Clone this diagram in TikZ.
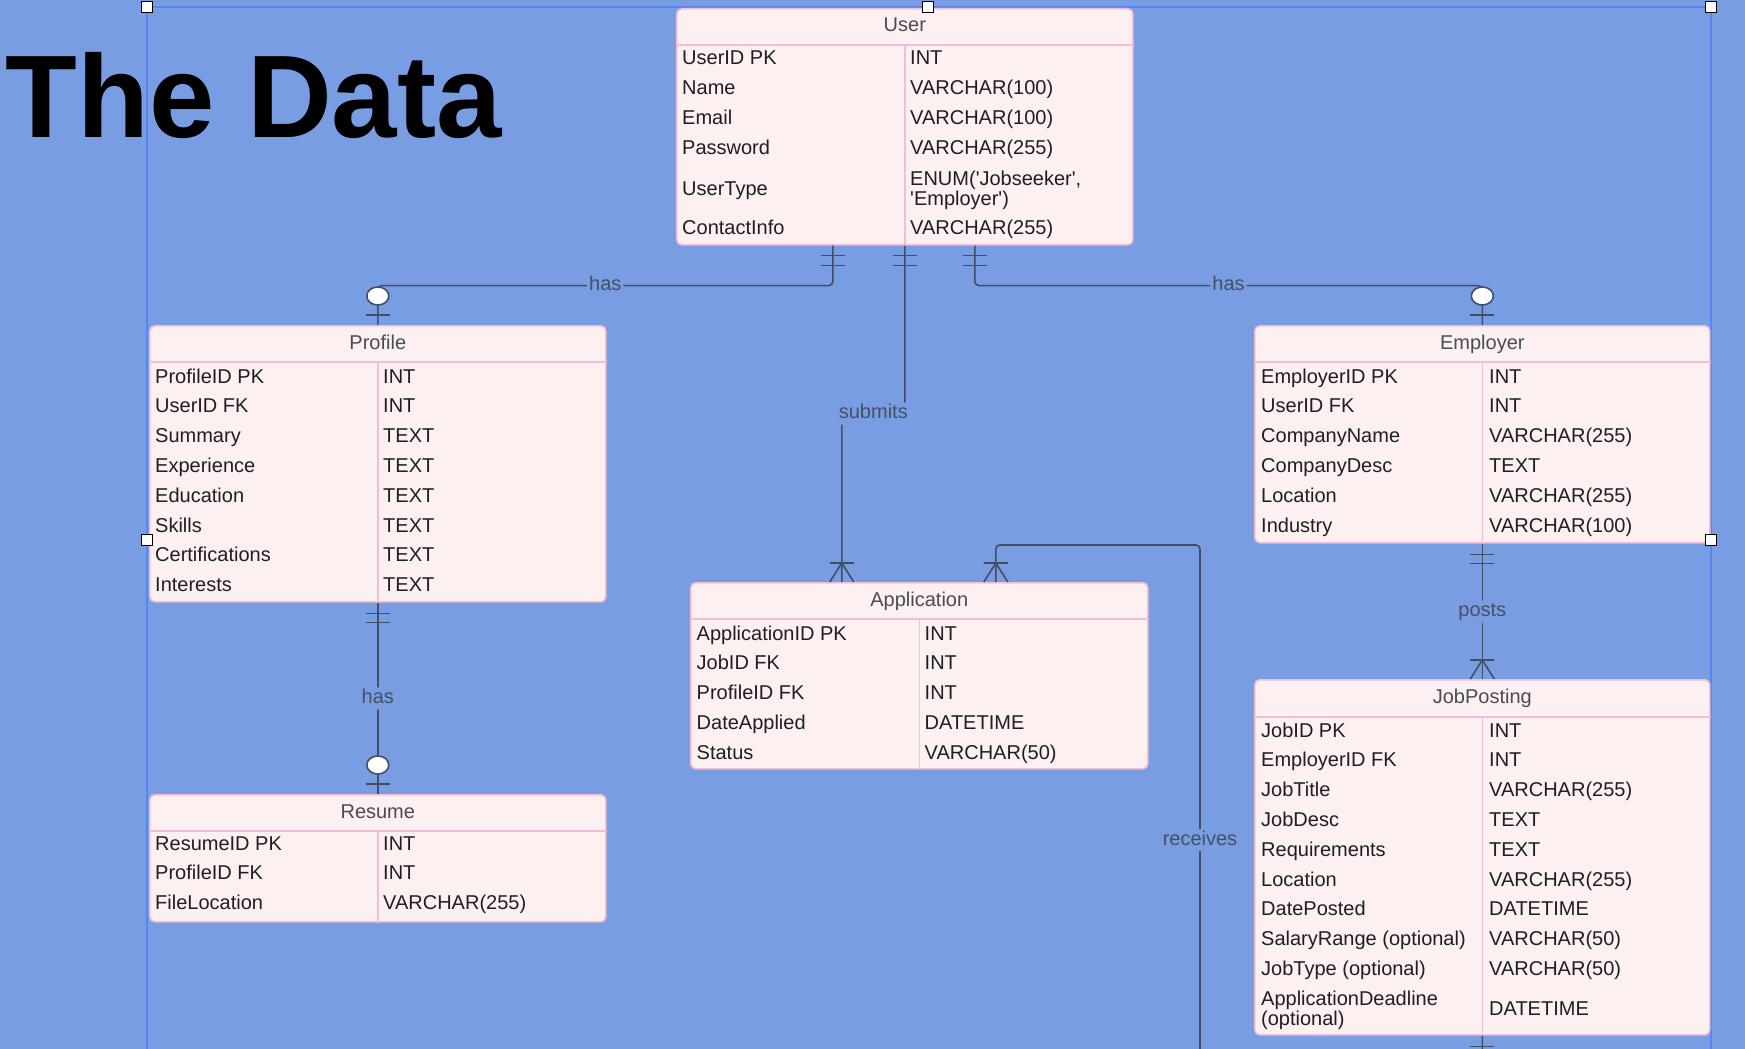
\documentclass[tikz,border=0pt]{standalone}
\usepackage{fontspec}
\setmainfont{Liberation Sans}
\definecolor{canvas}{RGB}{120,157,227}
\definecolor{selblue}{RGB}{88,134,240}
\definecolor{rowfill}{RGB}{252,240,241}
\definecolor{rowline}{RGB}{243,190,213}
\definecolor{relline}{RGB}{68,78,98}
\definecolor{lbltext}{RGB}{70,80,100}
\definecolor{hdrtext}{RGB}{75,75,85}
\begin{document}
\begin{tikzpicture}[x=1pt, y=-1pt,
  entity/.style={draw=rowline, fill=rowfill, line width=1.6pt, rounded corners=5pt, inner sep=0pt, anchor=north west},
  sep line/.style={draw=rowline, line width=1.6pt},
  ent title/.style={anchor=base, text=hdrtext, font=\fontsize{20}{20}\selectfont, inner sep=0pt},
  field/.style={anchor=base west, text=black!88, font=\fontsize{20}{20}\selectfont, inner sep=0pt, align=left},
  rel/.style={draw=relline, line width=1.6pt, rounded corners=4pt},
  rel label/.style={fill=canvas, text=lbltext, font=\fontsize{20}{20}\selectfont, inner sep=2pt, text height=14pt, text depth=4pt},
  handle/.style={draw=black, fill=white, line width=0.8pt, minimum size=11pt, inner sep=0pt}]
\fill[canvas] (0,0) rectangle (1745,1049);
\useasboundingbox (0,0) rectangle (1745,1049);
% selection frame
\draw[selblue, line width=1.5pt] (147,1060) -- (147,7) -- (1711,7) -- (1711,1060);
\node[anchor=base west, inner sep=0pt, font=\fontsize{117.5}{120}\selectfont\bfseries] (title) at (5.5,137) {The Data};

% User
\node[entity, minimum width=456pt, minimum height=236pt] (user) at (676,8) {};
\node[ent title] (user-title) at ([yshift=-23.5pt]user.north) {User};
\draw[sep line] ([yshift=-37pt]user.north west) -- ([yshift=-37pt]user.north east);
\draw[sep line] ([yshift=-37pt]user.north) -- (user.south);
\foreach \f/\t/\y [count=\i] in {UserID PK/INT/65, Name/VARCHAR(100)/94.8, Email/VARCHAR(100)/124.6, Password/VARCHAR(255)/154.4, ContactInfo/VARCHAR(255)/234}{
  \node[field] (user-f\i) at (682,\y) {\f};
  \node[field] (user-t\i) at (910,\y) {\t};
}
\node[field] (user-ftype) at (682,195) {UserType};
\node[field] (user-ttype) at (910,205) {ENUM(\textquotesingle Jobseeker\textquotesingle,\\\textquotesingle Employer\textquotesingle)};

% Profile
\node[entity, minimum width=456pt, minimum height=276pt] (profile) at (149,325) {};
\node[ent title] (profile-title) at ([yshift=-24pt]profile.north) {Profile};
\draw[sep line] ([yshift=-37pt]profile.north west) -- ([yshift=-37pt]profile.north east);
\draw[sep line] ([yshift=-37pt]profile.north) -- (profile.south);
\foreach \f/\t [count=\i] in {ProfileID PK/INT, UserID FK/INT, Summary/TEXT, Experience/TEXT, Education/TEXT, Skills/TEXT, Certifications/TEXT, Interests/TEXT}{
  \node[field] (profile-f\i) at (155,{383+29.8*(\i-1)}) {\f};
  \node[field] (profile-t\i) at (383,{383+29.8*(\i-1)}) {\t};
}

% Resume
\node[entity, minimum width=456pt, minimum height=127pt] (resume) at (149,794) {};
\node[ent title] (resume-title) at ([yshift=-24pt]resume.north) {Resume};
\draw[sep line] ([yshift=-37pt]resume.north west) -- ([yshift=-37pt]resume.north east);
\draw[sep line] ([yshift=-37pt]resume.north) -- (resume.south);
\foreach \f/\t [count=\i] in {ResumeID PK/INT, ProfileID FK/INT, FileLocation/VARCHAR(255)}{
  \node[field] (resume-f\i) at (155,{850+29.8*(\i-1)}) {\f};
  \node[field] (resume-t\i) at (383,{850+29.8*(\i-1)}) {\t};
}

% Employer
\node[entity, minimum width=455pt, minimum height=217pt] (employer) at (1254,325) {};
\node[ent title] (employer-title) at ([yshift=-24pt]employer.north) {Employer};
\draw[sep line] ([yshift=-37pt]employer.north west) -- ([yshift=-37pt]employer.north east);
\draw[sep line] ([yshift=-37pt]employer.north) -- (employer.south);
\foreach \f/\t [count=\i] in {EmployerID PK/INT, UserID FK/INT, CompanyName/VARCHAR(255), CompanyDesc/TEXT, Location/VARCHAR(255), Industry/VARCHAR(100)}{
  \node[field] (employer-f\i) at (1261,{383+29.8*(\i-1)}) {\f};
  \node[field] (employer-t\i) at (1489,{383+29.8*(\i-1)}) {\t};
}

% JobPosting
\node[entity, minimum width=455pt, minimum height=355pt] (jobposting) at (1254,679) {};
\node[ent title] (jobposting-title) at ([yshift=-24pt]jobposting.north) {JobPosting};
\draw[sep line] ([yshift=-38pt]jobposting.north west) -- ([yshift=-38pt]jobposting.north east);
\draw[sep line] ([yshift=-38pt]jobposting.north) -- (jobposting.south);
\foreach \f/\t [count=\i] in {JobID PK/INT, EmployerID FK/INT, JobTitle/VARCHAR(255), JobDesc/TEXT, Requirements/TEXT, Location/VARCHAR(255), DatePosted/DATETIME, SalaryRange (optional)/VARCHAR(50), JobType (optional)/VARCHAR(50)}{
  \node[field] (jobposting-f\i) at (1261,{737+29.8*(\i-1)}) {\f};
  \node[field] (jobposting-t\i) at (1489,{737+29.8*(\i-1)}) {\t};
}
\node[field] (jobposting-fdead) at (1261,1025) {ApplicationDeadline\\(optional)};
\node[field] (jobposting-tdead) at (1489,1015) {DATETIME};

% Application
\node[entity, minimum width=457pt, minimum height=186pt] (application) at (690,582) {};
\node[ent title] (application-title) at ([yshift=-24pt]application.north) {Application};
\draw[sep line] ([yshift=-37pt]application.north west) -- ([yshift=-37pt]application.north east);
\draw[sep line] ([yshift=-37pt]application.north) -- (application.south);
\foreach \f/\t [count=\i] in {ApplicationID PK/INT, JobID FK/INT, ProfileID FK/INT, DateApplied/DATETIME, Status/VARCHAR(50)}{
  \node[field] (application-f\i) at (696.5,{640+29.8*(\i-1)}) {\f};
  \node[field] (application-t\i) at (924.5,{640+29.8*(\i-1)}) {\t};
}

% relationships
\draw[rel] ([xshift=-72pt]user.south) -- ++(0,40) -| node[rel label, pos=0.25]{has} (profile.north);
\draw[rel] ([xshift=70pt]user.south) -- ++(0,40) -| node[rel label, pos=0.25]{has} (employer.north);
\draw[rel] (user.south) -- ++(0,168) -| node[rel label, pos=0.25]{submits} ([xshift=-77.5pt]application.north);
\draw[rel] (profile.south) -- node[rel label]{has} (resume.north);
\draw[rel] (employer.south) -- node[rel label]{posts} (jobposting.north);
\coordinate (rcv-turn) at (1200,545);
\draw[rel] (jobposting.south) -- ++(0,56) -| node[rel label, pos=0.73]{receives} (rcv-turn) -| ([xshift=76.5pt]application.north);

% one and only one
\foreach \dx in {-72,0,70}
  \foreach \dy in {10,20}
    \draw[rel] ([xshift=\dx pt]user.south) ++(-12,\dy) -- ++(24,0);
\foreach \dy in {11,20}{
  \draw[rel] (profile.south) ++(-12,\dy) -- ++(24,0);
  \draw[rel] (employer.south) ++(-12,\dy) -- ++(24,0);
  \draw[rel] (jobposting.south) ++(-12,\dy) -- ++(24,0);
}
% zero or one
\foreach \e in {profile,employer,resume}{
  \draw[rel] (\e.north) ++(-12,-10) -- ++(24,0);
  \draw[rel, fill=white] (\e.north) ++(0,-29) ellipse [x radius=11pt, y radius=9pt];
}
% one or many
\foreach \dx in {-77.5,76.5}
  \draw[rel, rounded corners=0pt] ([xshift=\dx pt]application.north) ++(-12,0) -- ++(12,-19) -- ++(12,19) ++(-24,-19) -- ++(24,0);
\draw[rel, rounded corners=0pt] (jobposting.north) ++(-12,0) -- ++(12,-19) -- ++(12,19) ++(-24,-19) -- ++(24,0);

% selection handles
\node[handle] (h1) at (147,7) {};
\node[handle] (h2) at (928,7) {};
\node[handle] (h3) at (1711,7) {};
\node[handle] (h4) at (147,540) {};
\node[handle] (h5) at (1711,540) {};
\end{tikzpicture}
\end{document}
